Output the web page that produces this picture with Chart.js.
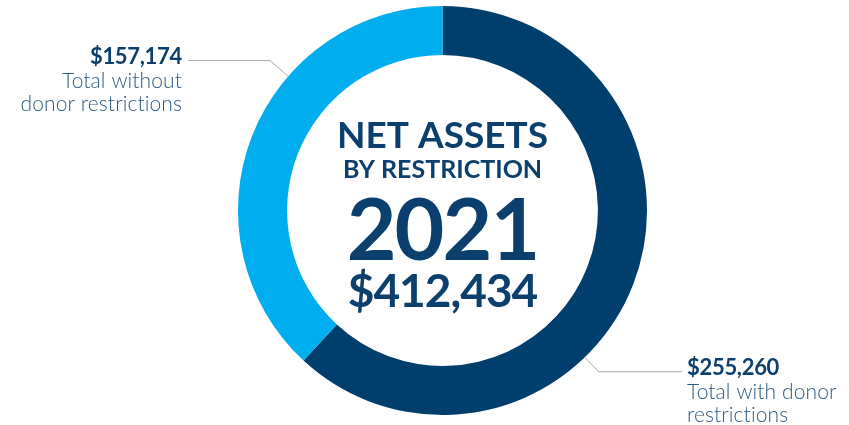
<!DOCTYPE html>
<html lang="en">
<head>
    <meta charset="UTF-8">
    <title>Net Assets by Restriction 2021</title>
    <script src="https://cdn.jsdelivr.net/npm/chart.js"></script>
    <style>
        html, body { margin: 0; padding: 0; background: #fff; }
        #wrap { width: 849px; height: 425px; }
    </style>
</head>
<body>
    <div id="wrap"><canvas id="netAssets" width="849" height="425"></canvas></div>

    <script>
        // net assets, 2021
        const categories = ['Total with donor restrictions', 'Total without donor restrictions'];
        const amounts = [255260, 157174];
        const sliceColors = ['#003e6d', '#00aeef'];
        const year = '2021';

        const navy = '#0b3f6d';
        const softNavy = '#2b5a86';
        const fmt = v => '$' + v.toLocaleString('en-US');

        // leader line + label for each slice: angle on the ring (deg, canvas coords)
        const callouts = [
            { angle: 45.9, out: 20, lineTo: 682, align: 'left', lines: ['Total with donor', 'restrictions'] },
            { angle: -139, out: 24, lineTo: 188, align: 'right', lines: ['Total without', 'donor restrictions'] }
        ];

        const calloutPlugin = {
            id: 'callouts',
            afterDraw(chart) {
                const ctx = chart.ctx;
                const meta = chart.getDatasetMeta(0);
                const totalValue = amounts.reduce((a, b) => a + b, 0);

                meta.data.forEach((arc, i) => {
                    const c = callouts[i];
                    const a = c.angle * Math.PI / 180;
                    const r = arc.outerRadius;
                    const x0 = arc.x + Math.cos(a) * r;
                    const y0 = arc.y + Math.sin(a) * r;
                    const x1 = arc.x + Math.cos(a) * (r + c.out);
                    const y1 = arc.y + Math.sin(a) * (r + c.out);

                    ctx.save();
                    ctx.strokeStyle = '#a9a9a9';
                    ctx.lineWidth = 1;
                    ctx.beginPath();
                    ctx.moveTo(x0, y0);
                    ctx.lineTo(x1, y1);
                    ctx.lineTo(c.lineTo, y1);
                    ctx.stroke();

                    const tx = c.align === 'left' ? c.lineTo + 5 : c.lineTo - 6;
                    ctx.textAlign = c.align;
                    ctx.textBaseline = 'alphabetic';
                    ctx.letterSpacing = '0.1px';
                    ctx.fillStyle = navy;
                    ctx.font = 'bold 22px Lato, sans-serif';
                    ctx.letterSpacing = '-0.3px';
                    ctx.fillText(fmt(amounts[i]), tx, y1 + 3);
                    ctx.letterSpacing = '0.1px';
                    ctx.fillStyle = softNavy;
                    ctx.font = '300 21px Lato, sans-serif';
                    c.lines.forEach((ln, k) => ctx.fillText(ln, tx, y1 + 27 + k * 23.5));
                    ctx.restore();
                });

                // centre block
                const cx = meta.data[0].x;
                ctx.save();
                ctx.textAlign = 'center';
                ctx.textBaseline = 'alphabetic';
                ctx.fillStyle = navy;
                ctx.font = 'bold 37px Lato, sans-serif';
                ctx.fillText('NET ASSETS', cx, 148);
                ctx.font = 'bold 25px Lato, sans-serif';
                ctx.fillText('BY RESTRICTION', cx, 178);
                ctx.font = 'bold 86px Lato, sans-serif';
                ctx.letterSpacing = '-2px';
                ctx.fillText(year, cx, 260);
                ctx.font = 'bold 46px Lato, sans-serif';
                ctx.letterSpacing = '-1px';
                ctx.fillText(fmt(totalValue), cx, 307);
                ctx.restore();
            }
        };

        new Chart(document.getElementById('netAssets'), {
            type: 'doughnut',
            data: {
                labels: categories,
                datasets: [{
                    data: amounts,
                    backgroundColor: sliceColors,
                    borderWidth: 0,
                    hoverOffset: 0
                }]
            },
            options: {
                responsive: false,
                animation: false,
                cutout: '76%',
                layout: { padding: { left: 238, right: 202, top: 6, bottom: 10 } },
                plugins: {
                    legend: { display: false },
                    tooltip: { enabled: false }
                }
            },
            plugins: [calloutPlugin]
        });
    </script>
</body>
</html>
